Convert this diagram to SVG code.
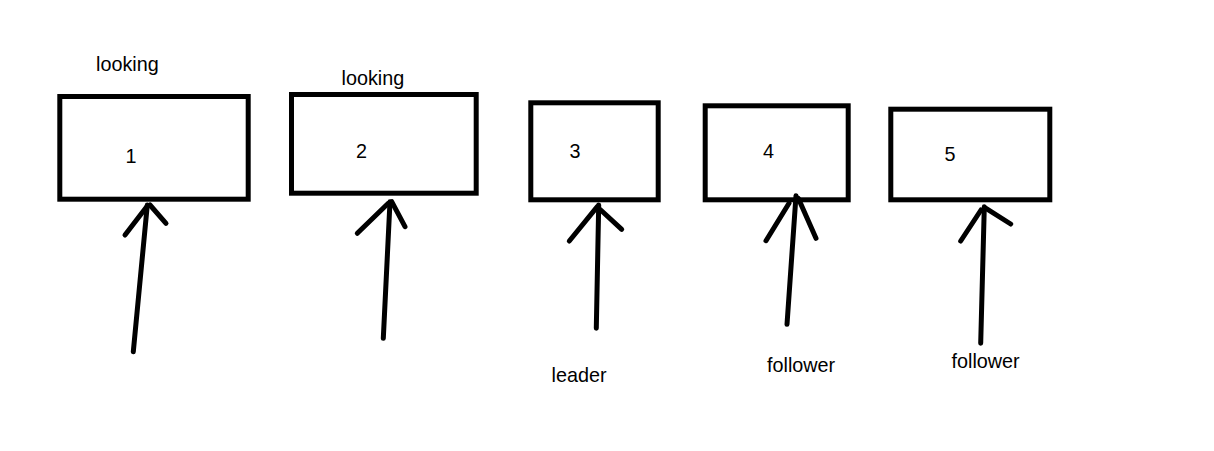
<svg xmlns="http://www.w3.org/2000/svg" width="1214" height="451" viewBox="0 0 1214 451">
<style>
.box{fill:none;stroke:#000;stroke-width:5}
.lbl{font-family:"Liberation Sans",Arial,sans-serif;font-size:19.8px;fill:#000}
.conn line{stroke:#000;stroke-width:5;stroke-linecap:round}
</style>
<rect width="1214" height="451" fill="#fff"/>
<g id="node1"><rect class="box" x="59.8" y="96.5" width="188.4" height="102.7"/><text class="lbl" x="125.5" y="163.3">1</text><text class="lbl" x="96" y="70.7">looking</text></g>
<g id="node2"><rect class="box" x="291.5" y="94.5" width="184.7" height="98.7"/><text class="lbl" x="356" y="158.3">2</text><text class="lbl" x="341.5" y="85">looking</text></g>
<g id="node3"><rect class="box" x="530.8" y="102.8" width="127.4" height="97"/><text class="lbl" x="569.5" y="158.3">3</text></g>
<g id="node4"><rect class="box" x="705.2" y="105.8" width="143" height="94"/><text class="lbl" x="763" y="158.3">4</text></g>
<g id="node5"><rect class="box" x="890.8" y="109.2" width="159" height="90.6"/><text class="lbl" x="944.5" y="161">5</text></g>
<g id="labels"><text class="lbl" x="551.5" y="381.7">leader</text><text class="lbl" x="767" y="372.3">follower</text><text class="lbl" x="951.5" y="368.3">follower</text></g>
<g id="connectors" class="conn">
<line x1="133.3" y1="351.7" x2="147.3" y2="205"/><line x1="125" y1="235" x2="146.7" y2="206.7"/><line x1="166" y1="223.3" x2="150" y2="205"/>
<line x1="383.3" y1="338.3" x2="390" y2="201.7"/><line x1="357.3" y1="233.3" x2="388.3" y2="203.3"/><line x1="405" y1="226.7" x2="391.7" y2="201.7"/>
<line x1="596.3" y1="328.3" x2="598.7" y2="205"/><line x1="569.3" y1="241" x2="597.3" y2="206.7"/><line x1="621.7" y1="229.3" x2="600.7" y2="210"/>
<line x1="787" y1="324.3" x2="796" y2="195.7"/><line x1="766" y1="240.7" x2="789" y2="203.3"/><line x1="816" y1="238.3" x2="798.3" y2="198.3"/>
<line x1="980.7" y1="343.3" x2="984.3" y2="206.7"/><line x1="960.7" y1="241" x2="981" y2="210"/><line x1="1010.7" y1="224" x2="986" y2="208.3"/>
</g>
</svg>
